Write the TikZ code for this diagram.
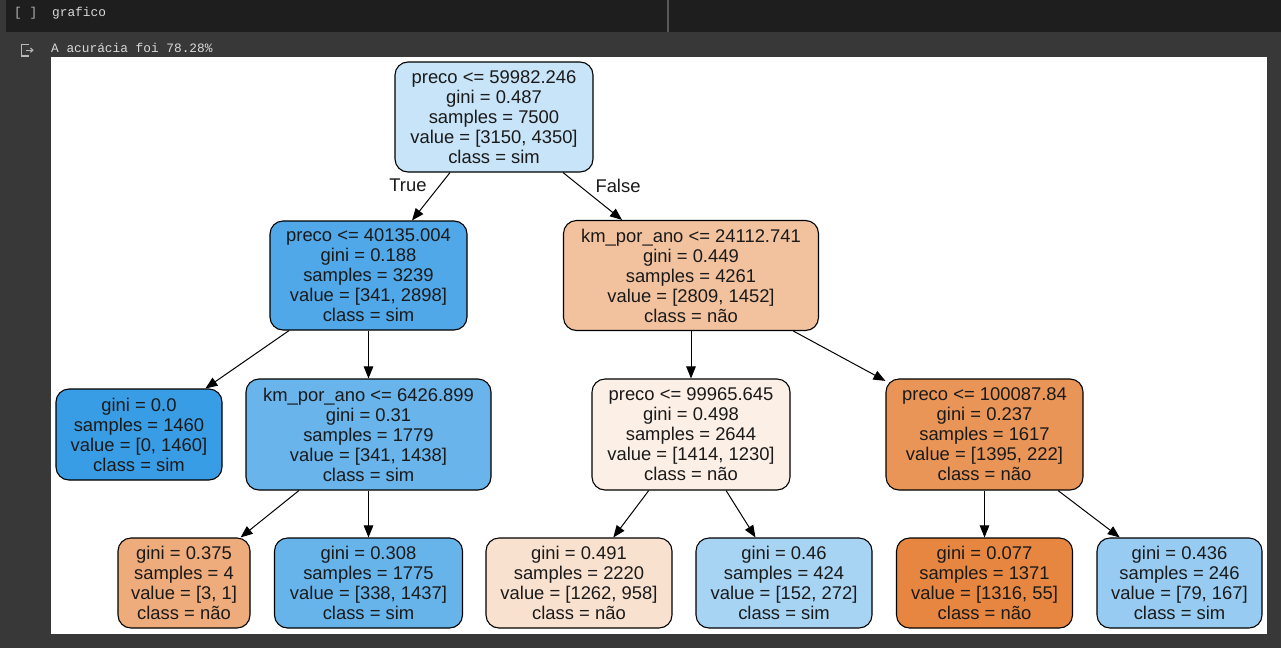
\documentclass[tikz,border=0pt]{standalone}
\usepackage{fontspec}
\setmainfont{Liberation Sans}
\newfontfamily\monof{Liberation Mono}
\usetikzlibrary{arrows.meta}
\definecolor{bgdark}{HTML}{383838}
\definecolor{bardark}{HTML}{1E1E1E}
\definecolor{cRoot}{HTML}{C8E4F8}
\definecolor{cL}{HTML}{50A8E8}
\definecolor{cR}{HTML}{F2C29F}
\definecolor{cA}{HTML}{399DE5}
\definecolor{cB}{HTML}{68B4EB}
\definecolor{cC}{HTML}{FCEFE5}
\definecolor{cD}{HTML}{E99558}
\definecolor{cE}{HTML}{EEAB7B}
\definecolor{cF}{HTML}{67B4EB}
\definecolor{cG}{HTML}{F9E1CF}
\definecolor{cH}{HTML}{A8D4F4}
\definecolor{cI}{HTML}{E68641}
\definecolor{cJ}{HTML}{97CBF1}
\definecolor{ntext}{HTML}{1A1A1A}
\tikzset{
  tn/.style={draw=black, line width=1.1pt, rounded corners=13pt, align=center, inner sep=0pt,
    text=ntext, font=\fontsize{18.4}{20}\selectfont},
  edge/.style={line width=1pt, -{Triangle[length=12pt,width=9.5pt]}},
  elab/.style={font=\fontsize{18.4}{20}\selectfont, text=ntext, inner sep=0pt},
  ui/.style={font=\monof\fontsize{12.8}{14}\selectfont, text=gray!30, inner sep=0pt, anchor=west},
}
\begin{document}
\begin{tikzpicture}[x=1pt,y=-1pt]
\useasboundingbox (0,0) rectangle (1281,648);
\fill[bgdark] (0,0) rectangle (1281,648);
\fill[bardark] (6,0) rectangle (1281,32);
\draw[color=gray!70!black, line width=1.2pt] (668,0) -- (668,32);
\fill[white] (51,57) rectangle (1267,634);
\node[ui, text=gray!60] (br) at (14,13) {[ ]};
\node[ui] (cell) at (52,13) {grafico};
\node[ui] (out) at (51,48) {A acurácia foi 78.28\%};
\draw[gray!55, line width=1.2pt] (29,44.5) -- (21.5,44.5) -- (21.5,56) -- (29,56);
\draw[gray!55, line width=1.1pt] (26,50.2) -- (32.5,50.2);
\draw[gray!55, line width=1.1pt] (30.5,48) -- (32.8,50.2) -- (30.5,52.4);

\node[tn, fill=cRoot, minimum width=198pt, minimum height=110pt] (root) at (494,117)
  {preco <= 59982.246\\gini = 0.487\\samples = 7500\\value = [3150, 4350]\\class = sim};
\node[tn, fill=cL, minimum width=197pt, minimum height=109pt] (n1) at (368.5,275.5)
  {preco <= 40135.004\\gini = 0.188\\samples = 3239\\value = [341, 2898]\\class = sim};
\node[tn, fill=cR, minimum width=255pt, minimum height=110pt] (n2) at (691,275.5)
  {km\_por\_ano <= 24112.741\\gini = 0.449\\samples = 4261\\value = [2809, 1452]\\class = não};
\node[tn, fill=cA, minimum width=166pt, minimum height=91pt] (nA) at (139,434.5)
  {gini = 0.0\\samples = 1460\\value = [0, 1460]\\class = sim};
\node[tn, fill=cB, minimum width=245pt, minimum height=111pt] (nB) at (368.5,434.5)
  {km\_por\_ano <= 6426.899\\gini = 0.31\\samples = 1779\\value = [341, 1438]\\class = sim};
\node[tn, fill=cC, minimum width=198pt, minimum height=111pt] (nC) at (691,434.5)
  {preco <= 99965.645\\gini = 0.498\\samples = 2644\\value = [1414, 1230]\\class = não};
\node[tn, fill=cD, minimum width=197pt, minimum height=111pt] (nD) at (984.5,434.5)
  {preco <= 100087.84\\gini = 0.237\\samples = 1617\\value = [1395, 222]\\class = não};
\node[tn, fill=cE, minimum width=132pt, minimum height=90pt] (nE) at (184,583)
  {gini = 0.375\\samples = 4\\value = [3, 1]\\class = não};
\node[tn, fill=cF, minimum width=188pt, minimum height=90pt] (nF) at (368.5,583)
  {gini = 0.308\\samples = 1775\\value = [338, 1437]\\class = sim};
\node[tn, fill=cG, minimum width=186pt, minimum height=90pt] (nG) at (579,583)
  {gini = 0.491\\samples = 2220\\value = [1262, 958]\\class = não};
\node[tn, fill=cH, minimum width=176pt, minimum height=90pt] (nH) at (784,583)
  {gini = 0.46\\samples = 424\\value = [152, 272]\\class = sim};
\node[tn, fill=cI, minimum width=176pt, minimum height=90pt] (nI) at (984.5,583)
  {gini = 0.077\\samples = 1371\\value = [1316, 55]\\class = não};
\node[tn, fill=cJ, minimum width=165pt, minimum height=90pt] (nJ) at (1179.5,583)
  {gini = 0.436\\samples = 246\\value = [79, 167]\\class = sim};

\draw[edge] (root) -- (n1);
\draw[edge] (root) -- (n2);
\node[elab] (tl) at (408,185) {True};
\node[elab] (fl) at (618,186) {False};
\draw[edge] (n1) -- (nA);
\draw[edge] (n1) -- (nB);
\draw[edge] (n2) -- (nC);
\draw[edge] (n2) -- (nD);
\draw[edge] (nB) -- (nE);
\draw[edge] (nB) -- (nF);
\draw[edge] (nC) -- (nG);
\draw[edge] (nC) -- (nH);
\draw[edge] (nD) -- (nI);
\draw[edge] (nD) -- (nJ);
\end{tikzpicture}
\end{document}
